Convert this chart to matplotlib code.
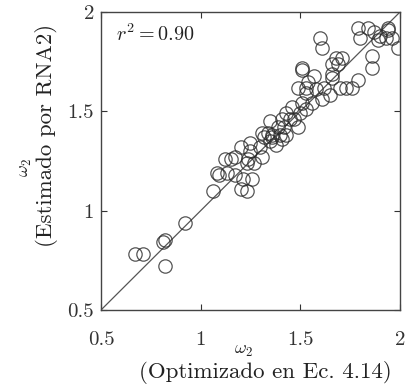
import numpy as np
import matplotlib.pyplot as plt

plt.rcParams['font.family'] = ['cmr10', 'DejaVu Serif']
plt.rcParams['mathtext.fontset'] = 'cm'
plt.rcParams['axes.formatter.use_mathtext'] = True

# omega_2 optimizado (x) vs estimado por RNA2 (y)
x_opt = [0.67, 0.71, 0.81, 0.82, 0.82, 0.92, 1.06, 1.08, 1.09, 1.12,
         1.15, 1.17, 1.13, 1.17, 1.20, 1.23, 1.26, 1.21, 1.20, 1.23,
         1.25, 1.27, 1.31, 1.30, 1.35, 1.38, 1.41, 1.32, 1.36, 1.24,
         1.25, 1.31, 1.34, 1.36, 1.35, 1.39, 1.41, 1.43, 1.46, 1.47,
         1.50, 1.51, 1.53, 1.49, 1.53, 1.43, 1.49, 1.60, 1.61, 1.51,
         1.51, 1.57, 1.54, 1.66, 1.66, 1.68, 1.53, 1.58, 1.62, 1.56,
         1.61, 1.79, 1.80, 1.84, 1.87, 1.90, 1.94, 1.93, 1.89, 1.96,
         1.99, 1.86, 1.86, 1.71, 1.69, 1.66, 1.70, 1.73, 1.76, 1.79,
         1.65, 1.94, 1.42, 1.45, 1.40]
y_est = [0.78, 0.78, 0.84, 0.85, 0.72, 0.94, 1.10, 1.19, 1.18, 1.26,
         1.26, 1.27, 1.19, 1.18, 1.11, 1.10, 1.16, 1.16, 1.32, 1.24,
         1.30, 1.24, 1.27, 1.32, 1.35, 1.33, 1.36, 1.37, 1.38, 1.26,
         1.34, 1.39, 1.39, 1.37, 1.45, 1.42, 1.46, 1.49, 1.52, 1.46,
         1.49, 1.54, 1.51, 1.62, 1.62, 1.38, 1.42, 1.87, 1.82, 1.72,
         1.71, 1.68, 1.65, 1.74, 1.67, 1.77, 1.59, 1.61, 1.62, 1.54,
         1.56, 1.92, 1.87, 1.92, 1.90, 1.88, 1.92, 1.87, 1.86, 1.87,
         1.82, 1.78, 1.72, 1.77, 1.74, 1.69, 1.62, 1.62, 1.62, 1.66,
         1.58, 1.91, 1.42, 1.46, 1.38]
ticks = [0.5, 1, 1.5, 2]
tick_labels = ['0.5', '1', '1.5', '2']
r2_text = r'$r^2 = 0.90$'

fig = plt.figure(figsize=(4.10, 3.84), dpi=100)
ax = fig.add_axes([0.2463, 0.1927, 0.7293, 0.776])

ax.plot([0.5, 2], [0.5, 2], color='#555555', lw=0.9, zorder=1)
ax.plot(x_opt, y_est, 'o', ms=9.6, mfc='none', mec='#2a2a2a', mew=0.9,
        alpha=0.8, zorder=2)

ax.set_xlim(0.5, 2)
ax.set_ylim(0.5, 2)
ax.set_xticks(ticks)
ax.set_xticklabels(tick_labels)
ax.set_yticks(ticks)
ax.set_yticklabels(tick_labels)
ax.tick_params(direction='in', length=4, width=0.8, top=True, right=True,
               labelsize=15, colors='#333333')
ax.tick_params(axis='x', pad=15)
ax.tick_params(axis='y', pad=5)
for s in ax.spines.values():
    s.set_color('#444444')
    s.set_linewidth(1.0)

ax.text(0.05, 0.925, r2_text, transform=ax.transAxes, fontsize=14.5,
        va='center', ha='left', color='#222222')

# etiquetas de ejes (dos lineas, como en el original)
fig.text(243/410, 1-359/384, r'$\omega_2$', ha='center', va='bottom',
         fontsize=13, color='#222222')
fig.text(265/410, 1-372/384, '(Optimizado en Ec. 4.14)', ha='center',
         va='center', fontsize=16.5, color='#222222')
fig.text(34/410, 1-168/384, r'$\omega_2$', ha='right', va='center',
         rotation=90, fontsize=13, color='#222222')
fig.text(47/410, 1-135/384, '(Estimado por RNA2)', ha='center',
         va='center', rotation=90, fontsize=16.5, color='#222222')

fig.savefig('out.png', dpi=100)
